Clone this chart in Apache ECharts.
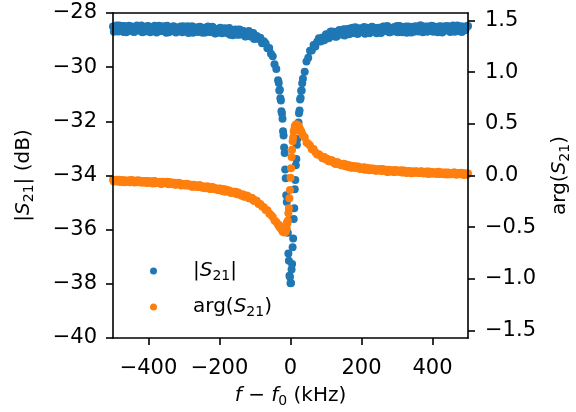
<!DOCTYPE html>
<html>
<head>
<meta charset="utf-8">
<script src="https://cdn.jsdelivr.net/npm/echarts@6/dist/echarts.min.js"></script>
<style>html,body{margin:0;padding:0;background:#fff;}#c{width:576px;height:412px;}</style>
</head>
<body>
<div id="c"></div>
<script>
// ---- data ----
var freqLeft = [-500,-495,-490,-485,-480,-475,-470,-465,-460,-455,-450,-445,-440,-435,-430,-425,-420,-415,-410,-405,-400,-395,-390,-385,-380,-375,-370,-365,-360,-355,-350,-345,-340,-335,-330,-325,-320,-315,-310,-305,-300,-295,-290,-285,-280,-275,-270,-265,-260,-255,-250,-245,-240,-235,-230,-225,-220,-215,-210,-205,-200,-195,-190,-185,-180,-175,-170,-165,-160,-155,-150,-145,-140,-135,-130,-125,-120,-115,-110,-105,-100,-95,-90,-85,-80,-75,-70,-65,-60,-55,-50,-45,-40,-35];
var freqMid = [-33,-31.5,-30,-28.5,-27,-25.5,-24,-22.5,-21,-19.5,-18,-16.5,-15,-13.5,-12,-10.5,-9,-7.5,-6,-4.5,-3,-1.5,0,1.5,3,4.5,6,7.5,9,10.5,12,13.5,15,16.5,18,19.5,21,22.5,24,25.5,27,28.5,30,31.5,33];
var freqRight = [35,40,45,50,55,60,65,70,75,80,85,90,95,100,105,110,115,120,125,130,135,140,145,150,155,160,165,170,175,180,185,190,195,200,205,210,215,220,225,230,235,240,245,250,255,260,265,270,275,280,285,290,295,300,305,310,315,320,325,330,335,340,345,350,355,360,365,370,375,380,385,390,395,400,405,410,415,420,425,430,435,440,445,450,455,460,465,470,475,480,485,490,495,500];
// extra in-between sweep points in the flat wings
var freqLeft2 = [-497.5,-492.5,-487.5,-482.5,-477.5,-472.5,-467.5,-462.5,-457.5,-452.5,-447.5,-442.5,-437.5,-432.5,-427.5,-422.5,-417.5,-412.5,-407.5,-402.5,-397.5,-392.5,-387.5,-382.5,-377.5,-372.5,-367.5,-362.5,-357.5,-352.5,-347.5,-342.5,-337.5,-332.5,-327.5,-322.5,-317.5,-312.5,-307.5,-302.5,-297.5,-292.5,-287.5,-282.5,-277.5,-272.5,-267.5,-262.5,-257.5,-252.5,-247.5,-242.5,-237.5,-232.5,-227.5,-222.5,-217.5,-212.5,-207.5,-202.5,-197.5,-192.5,-187.5,-182.5,-177.5,-172.5,-167.5,-162.5,-157.5,-152.5,-147.5,-142.5,-137.5,-132.5,-127.5,-122.5,-117.5,-112.5,-107.5,-102.5];
var freqRight2 = [102.5,107.5,112.5,117.5,122.5,127.5,132.5,137.5,142.5,147.5,152.5,157.5,162.5,167.5,172.5,177.5,182.5,187.5,192.5,197.5,202.5,207.5,212.5,217.5,222.5,227.5,232.5,237.5,242.5,247.5,252.5,257.5,262.5,267.5,272.5,277.5,282.5,287.5,292.5,297.5,302.5,307.5,312.5,317.5,322.5,327.5,332.5,337.5,342.5,347.5,352.5,357.5,362.5,367.5,372.5,377.5,382.5,387.5,392.5,397.5,402.5,407.5,412.5,417.5,422.5,427.5,432.5,437.5,442.5,447.5,452.5,457.5,462.5,467.5,472.5,477.5,482.5,487.5,492.5,497.5];

var magLeft = [-28.50,-28.63,-28.46,-28.68,-28.56,-28.48,-28.70,-28.54,-28.61,-28.47,
 -28.66,-28.53,-28.70,-28.58,-28.50,-28.65,-28.46,-28.61,-28.68,-28.54,
 -28.49,-28.71,-28.56,-28.64,-28.51,-28.69,-28.47,-28.59,-28.66,-28.53,
 -28.73,-28.51,-28.58,-28.64,-28.49,-28.69,-28.55,-28.61,-28.50,-28.71,
 -28.53,-28.67,-28.49,-28.64,-28.57,-28.73,-28.53,-28.60,-28.70,-28.51,
 -28.66,-28.56,-28.72,-28.60,-28.54,-28.70,-28.51,-28.66,-28.75,-28.59,
 -28.57,-28.74,-28.64,-28.56,-28.72,-28.60,-28.80,-28.64,-28.70,-28.61,
 -28.79,-28.61,-28.79,-28.71,-28.69,-28.86,-28.77,-28.72,-28.86,-28.74,
 -28.94,-28.85,-28.96,-28.91,-29.12,-29.04,-29.13,-29.30,-29.29,-29.50,
 -29.60,-29.89,-30.07,-30.48];
var magMid = [-30.58,-30.86,-30.83,-31.15,-31.23,-31.63,-31.71,-31.90,-32.37,-32.52,
 -32.97,-33.17,-33.78,-34.10,-34.73,-34.98,-35.72,-36.11,-36.88,-37.15,
 -37.70,-37.75,-37.98,-37.97,-37.47,-37.27,-36.65,-36.33,-35.61,-35.21,
 -34.51,-34.17,-33.62,-33.39,-32.86,-32.65,-32.18,-32.04,-31.70,-31.60,
 -31.19,-31.14,-30.87,-30.86,-30.59];
var magRight = [-30.43,-30.17,-29.79,-29.65,-29.39,-29.38,-29.18,-29.24,-29.06,-28.93,
 -29.05,-28.90,-29.01,-28.78,-28.83,-28.87,-28.68,-28.86,-28.73,-28.87,
 -28.67,-28.73,-28.78,-28.60,-28.73,-28.61,-28.78,-28.63,-28.54,-28.74,
 -28.64,-28.77,-28.56,-28.69,-28.58,-28.77,-28.54,-28.62,-28.71,-28.51,
 -28.65,-28.55,-28.71,-28.58,-28.74,-28.51,-28.66,-28.58,-28.52,-28.71,
 -28.55,-28.62,-28.68,-28.48,-28.64,-28.52,-28.71,-28.58,-28.50,-28.66,
 -28.55,-28.72,-28.51,-28.63,-28.52,-28.68,-28.46,-28.64,-28.58,-28.50,
 -28.69,-28.55,-28.66,-28.48,-28.61,-28.53,-28.71,-28.50,-28.59,-28.67,
 -28.49,-28.63,-28.54,-28.70,-28.52,-28.55,-28.64,-28.46,-28.67,-28.56,
 -28.50,-28.63,-28.52,-28.48];
var magLeft2 = [-28.69,-28.51,-28.60,-28.46,-28.66,-28.55,-28.48,-28.71,-28.53,-28.63,
 -28.50,-28.69,-28.58,-28.46,-28.65,-28.55,-28.71,-28.51,-28.60,-28.48,
 -28.68,-28.53,-28.62,-28.47,-28.72,-28.57,-28.51,-28.66,-28.49,-28.65,
 -28.47,-28.71,-28.56,-28.62,-28.51,-28.72,-28.54,-28.60,-28.68,-28.49,
 -28.64,-28.54,-28.74,-28.58,-28.49,-28.70,-28.56,-28.67,-28.52,-28.63,
 -28.73,-28.54,-28.66,-28.50,-28.70,-28.61,-28.55,-28.76,-28.59,-28.70,
 -28.54,-28.75,-28.63,-28.59,-28.75,-28.55,-28.70,-28.82,-28.63,-28.69,
 -28.80,-28.62,-28.77,-28.66,-28.87,-28.73,-28.66,-28.87,-28.81,-28.96];
var magRight2 = [-28.80,-28.93,-28.69,-28.82,-28.69,-28.88,-28.73,-28.63,-28.79,-28.67,
 -28.83,-28.60,-28.71,-28.57,-28.75,-28.62,-28.53,-28.77,-28.65,-28.58,
 -28.70,-28.52,-28.73,-28.61,-28.75,-28.53,-28.64,-28.56,-28.75,-28.54,
 -28.60,-28.69,-28.50,-28.65,-28.48,-28.71,-28.56,-28.67,-28.52,-28.62,
 -28.71,-28.48,-28.68,-28.57,-28.53,-28.73,-28.50,-28.63,-28.56,-28.69,
 -28.49,-28.64,-28.58,-28.46,-28.71,-28.53,-28.66,-28.50,-28.60,-28.47,
 -28.69,-28.57,-28.51,-28.65,-28.49,-28.72,-28.54,-28.63,-28.48,-28.67,
 -28.56,-28.46,-28.69,-28.51,-28.60,-28.49,-28.70,-28.54,-28.64,-28.48];

var phaseLeft = [-0.042,-0.054,-0.040,-0.060,-0.050,-0.046,-0.065,-0.050,-0.060,-0.045,
 -0.057,-0.049,-0.067,-0.056,-0.046,-0.066,-0.055,-0.063,-0.052,-0.072,
 -0.059,-0.055,-0.069,-0.055,-0.074,-0.067,-0.062,-0.081,-0.061,-0.073,
 -0.068,-0.082,-0.064,-0.080,-0.071,-0.089,-0.079,-0.071,-0.090,-0.081,
 -0.089,-0.097,-0.081,-0.096,-0.089,-0.108,-0.091,-0.101,-0.111,-0.095,
 -0.114,-0.108,-0.124,-0.107,-0.119,-0.127,-0.111,-0.130,-0.123,-0.140,
 -0.126,-0.139,-0.130,-0.156,-0.143,-0.143,-0.162,-0.157,-0.167,-0.157,
 -0.181,-0.173,-0.185,-0.181,-0.206,-0.199,-0.202,-0.221,-0.214,-0.238,
 -0.240,-0.245,-0.275,-0.276,-0.299,-0.306,-0.334,-0.336,-0.368,-0.381,
 -0.402,-0.435,-0.450,-0.477];
var phaseMid = [-0.476,-0.496,-0.489,-0.507,-0.500,-0.520,-0.518,-0.541,-0.534,-0.546,
 -0.537,-0.550,-0.539,-0.544,-0.521,-0.513,-0.464,-0.438,-0.366,-0.317,
 -0.220,-0.141,-0.022,0.070,0.180,0.250,0.330,0.367,0.422,0.443,
 0.477,0.479,0.494,0.484,0.494,0.477,0.485,0.470,0.473,0.449,
 0.447,0.427,0.429,0.409,0.404];
var phaseRight = [0.387,0.369,0.320,0.308,0.289,0.254,0.256,0.225,0.204,0.206,
 0.189,0.166,0.178,0.155,0.156,0.137,0.148,0.131,0.115,0.128,
 0.112,0.114,0.100,0.113,0.089,0.096,0.098,0.076,0.093,0.080,
 0.074,0.086,0.066,0.074,0.075,0.055,0.076,0.059,0.062,0.052,
 0.066,0.046,0.059,0.055,0.045,0.062,0.045,0.056,0.035,0.049,
 0.044,0.035,0.052,0.036,0.047,0.037,0.029,0.048,0.030,0.038,
 0.042,0.022,0.039,0.031,0.040,0.024,0.032,0.039,0.019,0.033,
 0.023,0.039,0.018,0.026,0.032,0.019,0.035,0.014,0.026,0.020,
 0.029,0.010,0.026,0.020,0.012,0.029,0.015,0.022,0.012,0.026,
 0.016,0.021,0.008,0.019];
var phaseLeft2 = [-0.059,-0.044,-0.053,-0.040,-0.064,-0.048,-0.046,-0.060,-0.053,-0.065,
 -0.044,-0.061,-0.050,-0.066,-0.056,-0.050,-0.071,-0.055,-0.062,-0.052,
 -0.070,-0.061,-0.077,-0.054,-0.067,-0.073,-0.060,-0.079,-0.064,-0.075,
 -0.060,-0.084,-0.071,-0.079,-0.069,-0.088,-0.081,-0.076,-0.096,-0.082,
 -0.094,-0.080,-0.096,-0.091,-0.108,-0.090,-0.098,-0.110,-0.094,-0.108,
 -0.119,-0.106,-0.118,-0.106,-0.130,-0.118,-0.116,-0.132,-0.130,-0.140,
 -0.128,-0.150,-0.139,-0.136,-0.153,-0.147,-0.169,-0.161,-0.158,-0.177,
 -0.165,-0.184,-0.196,-0.188,-0.202,-0.194,-0.220,-0.218,-0.219,-0.247];
var phaseRight2 = [0.162,0.138,0.144,0.146,0.123,0.112,0.127,0.114,0.100,0.109,
 0.097,0.107,0.081,0.095,0.088,0.076,0.090,0.074,0.083,0.064,
 0.070,0.080,0.060,0.068,0.051,0.069,0.057,0.064,0.045,0.057,
 0.063,0.043,0.054,0.047,0.035,0.056,0.040,0.050,0.034,0.044,
 0.049,0.036,0.051,0.031,0.038,0.025,0.044,0.031,0.039,0.023,
 0.039,0.034,0.023,0.041,0.027,0.023,0.038,0.015,0.031,0.034,
 0.020,0.026,0.015,0.036,0.020,0.029,0.011,0.023,0.030,0.013,
 0.024,0.018,0.030,0.008,0.024,0.014,0.025,0.005,0.019,0.010];

var xTicks = [-400,-200,0,200,400];
var yLeftTicks = [-40,-38,-36,-34,-32,-30,-28];
var yRightTicks = [-1.5,-1.0,-0.5,0.0,0.5,1.0,1.5];
var seriesNames = ['|S21|','arg(S21)'];

// ---- build ----
var freq = freqLeft.concat(freqMid, freqRight, freqLeft2, freqRight2);
var mag = magLeft.concat(magMid, magRight, magLeft2, magRight2);
var phase = phaseLeft.concat(phaseMid, phaseRight, phaseLeft2, phaseRight2);
function pairs(xs, ys){ var out=[]; for (var i=0;i<xs.length;i++) out.push([xs[i], ys[i]]); return out; }
function minus(s){ return String(s).replace('-', '\u2212'); }

var FONT = 'DejaVu Sans';
var richSub = {
  i: {fontFamily: FONT, fontSize: 20, fontStyle: 'italic', lineHeight: 24, color: '#000'},
  s: {fontFamily: FONT, fontSize: 14, lineHeight: 14, padding: [10,0,0,0], color: '#000'},
  g: {width: 31, fontSize: 20, lineHeight: 24}
};
var nameStyle = {fontFamily: FONT, fontSize: 20, lineHeight: 24, color: '#000', rich: richSub};
var lineStyle = {color: '#000', width: 1.6};
var labelStyle = {fontFamily: FONT, fontSize: 21, color: '#000'};

var chart = echarts.init(document.getElementById('c'), null, {renderer: 'canvas'});
chart.setOption({
  animation: false,
  backgroundColor: '#fff',
  grid: {left: 113, right: 108, top: 13, bottom: 74, containLabel: false, outerBoundsMode: 'none'},
  legend: {
    orient: 'vertical', left: 150, top: 259, padding: 0,
    itemWidth: 7, itemHeight: 7, itemGap: 12, icon: 'circle',
    data: seriesNames,
    formatter: function(n){ return n === seriesNames[0] ? '{g| }|{i|S}{s|21}|' : '{g| }arg({i|S}{s|21})'; },
    textStyle: {fontFamily: FONT, fontSize: 20, lineHeight: 24, color: '#000', rich: richSub}
  },
  xAxis: [{
    type: 'value', position: 'bottom', min: -500, max: 500, z: 10,
    axisLine: {show: true, onZero: false, lineStyle: lineStyle},
    axisTick: {show: true, length: 7, lineStyle: {color: '#000', width: 1.6}, customValues: xTicks},
    axisLabel: Object.assign({margin: 20, customValues: xTicks, formatter: function(v){ return minus(v); }}, labelStyle),
    splitLine: {show: false},
    name: '{i|f} \u2212 {i|f}{s|0} (kHz)', nameLocation: 'middle', nameGap: 35, nameTextStyle: nameStyle
  }, {
    type: 'value', position: 'top', min: -500, max: 500, z: 10,
    axisLine: {show: true, onZero: false, lineStyle: lineStyle},
    axisTick: {show: false}, axisLabel: {show: false}, splitLine: {show: false}
  }],
  yAxis: [{
    type: 'value', position: 'left', min: -40, max: -28, interval: 2, z: 10,
    axisLine: {show: true, onZero: false, lineStyle: lineStyle},
    axisTick: {show: true, length: 7, lineStyle: {color: '#000', width: 1.6}, customValues: yLeftTicks},
    axisLabel: Object.assign({margin: 16, customValues: yLeftTicks, showMinLabel: true, showMaxLabel: true, formatter: function(v){ return minus(v); }}, labelStyle),
    splitLine: {show: false},
    name: '|{i|S}{s|21}| (dB)', nameLocation: 'middle', nameRotate: 90, nameGap: 77, nameTextStyle: nameStyle
  }, {
    type: 'value', position: 'right', min: -Math.PI/2, max: Math.PI/2, z: 10,
    axisLine: {show: true, onZero: false, lineStyle: lineStyle},
    axisTick: {show: true, length: 7, lineStyle: {color: '#000', width: 1.6}, customValues: yRightTicks},
    axisLabel: Object.assign({margin: 17, customValues: yRightTicks, formatter: function(v){ return minus(Number(v).toFixed(1)); }}, labelStyle),
    splitLine: {show: false},
    name: 'arg({i|S}{s|21})', nameLocation: 'middle', nameRotate: 90, nameGap: 80, nameTextStyle: nameStyle
  }],
  series: [{
    name: seriesNames[0], type: 'scatter', xAxisIndex: 0, yAxisIndex: 0,
    symbol: 'circle', symbolSize: 8, silent: true,
    itemStyle: {color: '#1f77b4', opacity: 1},
    data: pairs(freq, mag)
  }, {
    name: seriesNames[1], type: 'scatter', xAxisIndex: 0, yAxisIndex: 1,
    symbol: 'circle', symbolSize: 8, silent: true,
    itemStyle: {color: '#ff7f0e', opacity: 1},
    data: pairs(freq, phase)
  }]
});
</script>
</body>
</html>
